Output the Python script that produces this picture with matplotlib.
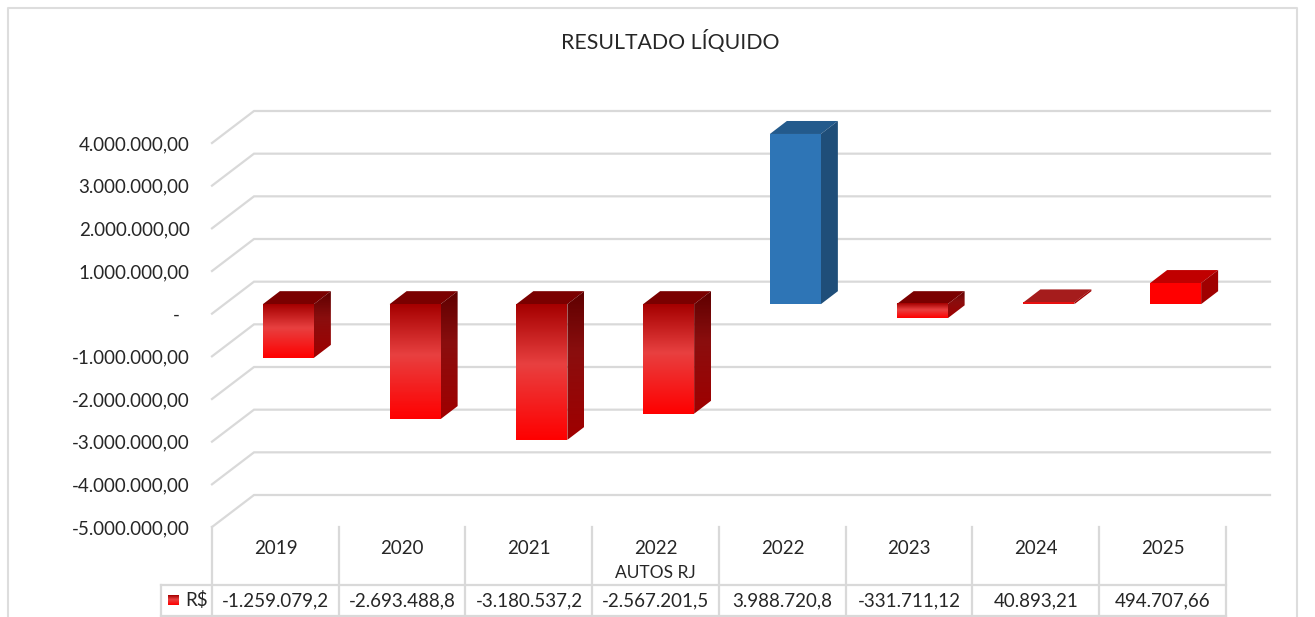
import numpy as np
import matplotlib
matplotlib.use("Agg")
import matplotlib.pyplot as plt
from matplotlib.colors import LinearSegmentedColormap
from matplotlib.patches import Polygon

plt.rcParams["font.family"] = ["Lato", "DejaVu Sans"]

years = ["2019", "2020", "2021", "2022", "2022", "2023", "2024", "2025"]
sublabels = ["", "", "", "AUTOS RJ", "", "", "", ""]
values = [-1259079.2, -2693488.8, -3180537.2, -2567201.5, 3988720.8, -331711.12, 40893.21, 494707.66]
value_labels = ["-1.259.079,2", "-2.693.488,8", "-3.180.537,2", "-2.567.201,5",
                "3.988.720,8", "-331.711,12", "40.893,21", "494.707,66"]
bar_styles = ["grad", "grad", "grad", "grad", "blue", "grad", "flat", "plain"]
y_ticks = [4e6, 3e6, 2e6, 1e6, 0, -1e6, -2e6, -3e6, -4e6, -5e6]
y_labels = ["4.000.000,00", "3.000.000,00", "2.000.000,00", "1.000.000,00", "-",
            "-1.000.000,00", "-2.000.000,00", "-3.000.000,00", "-4.000.000,00", "-5.000.000,00"]

W, H = 1315, 617
GRID = "#D9D9D9"
TEXT = "#262626"
PX_X = 1 / 126.75          # one pixel in category units
PX_Y = 1e6 / 42.67         # one pixel in value units

front_cmap = LinearSegmentedColormap.from_list("front", [(0, "#A50000"), (0.44, "#E84040"), (1, "#FF0000")])
side_cmap = LinearSegmentedColormap.from_list("side", [(0, "#5E0000"), (0.4, "#8A0E0E"), (1, "#A00000")])


def gradient_fill(ax, x0, x1, y0, y1, cmap, clip=None):
    grad = np.linspace(0, 1, 128).reshape(-1, 1)
    im = ax.imshow(grad, cmap=cmap, extent=(x0, x1, y0, y1), origin="upper",
                   aspect="auto", zorder=3, interpolation="bilinear")
    if clip is not None:
        clip.set_visible(False)
        ax.add_patch(clip)
        im.set_clip_path(clip)
    else:
        im.set_clip_on(False)


def draw_bar(ax, pos, val, style):
    # front face sits a bit behind the front plane, the box goes back from there
    left = pos + (263 - 275.5) * PX_X
    right = left + 51 * PX_X
    base = 9.5 * PX_Y
    hi = base + max(val, 0)
    lo = base + min(val, 0)
    dx, dy = 17 * PX_X, 13 * PX_Y
    top = [(left, hi), (right, hi), (right + dx, hi + dy), (left + dx, hi + dy)]
    side = [(right, hi), (right + dx, hi + dy), (right + dx, lo + dy), (right, lo)]

    if style == "grad":
        ax.add_patch(Polygon(top, fc="#7A0000", ec="none", zorder=3, clip_on=False))
        gradient_fill(ax, left, right, lo, hi, front_cmap)
        gradient_fill(ax, right, right + dx, lo, hi + dy, side_cmap,
                      Polygon(side, transform=ax.transData))
        return
    front_c, top_c, side_c = {"blue": ("#2E75B6", "#235A8C", "#1F4E79"),
                              "flat": ("#E81010", "#A51C1C", "#A00000"),
                              "plain": ("#FF0000", "#C00000", "#A00000")}[style]
    ax.add_patch(Polygon(top, fc=top_c, ec="none", zorder=3, clip_on=False))
    ax.add_patch(Polygon(side, fc=side_c, ec="none", zorder=3, clip_on=False))
    ax.fill_between([left, right], lo, hi, color=front_c, lw=0, zorder=3, clip_on=False)


fig = plt.figure(figsize=(W / 100, H / 100), dpi=100)

# pixel overlay for the chart frame and the data table
over = fig.add_axes([0, 0, 1, 1])
over.set_xlim(0, W)
over.set_ylim(H, 0)
over.axis("off")

ax = fig.add_axes([212 / W, 1 - 527 / H, 1014 / W, 384 / H])
ax.set_xlim(0, 8)
ax.set_ylim(-5e6, 4e6)
ax.axis("off")

# outer frame
over.plot([8, 8, 1297, 1297], [617, 8, 8, 617], color="#DDDDDD", lw=1.5)

# floor/wall lines, going back from the front plane
back_x, back_y = 42 * PX_X, 32 * PX_Y
for t in y_ticks:
    ax.plot([0, back_x, 8 + 44 * PX_X], [t, t + back_y, t + back_y], color=GRID, lw=1.6,
            zorder=1, clip_on=False, solid_joinstyle="miter")

for i, (v, s) in enumerate(zip(values, bar_styles)):
    draw_bar(ax, i + 0.5, v, s)
ax.set_xlim(0, 8)
ax.set_ylim(-5e6, 4e6)

# value axis labels
for t, lab in zip(y_ticks, y_labels):
    x = 180 if lab == "-" else 189.5
    y_px = 528.5 - (t + 5e6) / PX_Y
    over.text(x, y_px, lab, ha="right", va="center", fontsize=13.5, color=TEXT)

# table
col_edges = [212 + 126.75 * i for i in range(9)]
for x in col_edges:
    over.plot([x, x], [527, 617], color=GRID, lw=1.6)
over.plot([161, 161], [585, 617], color=GRID, lw=1.6)
over.plot([161, 1226], [585, 585], color=GRID, lw=1.6)
over.plot([161, 1226], [616, 616], color=GRID, lw=1.6)

for i in range(8):
    xc = col_edges[i] + 63.6
    over.text(xc, 549, years[i], ha="center", va="center", fontsize=13.5, color=TEXT)
    if sublabels[i]:
        over.text(xc, 573, sublabels[i], ha="center", va="center", fontsize=12.5, color=TEXT)
    over.text(xc, 600.5, value_labels[i], ha="center", va="center", fontsize=13.5, color=TEXT)

# legend key
grad = np.linspace(0, 1, 32).reshape(-1, 1)
over.imshow(grad, cmap=front_cmap, extent=(168, 179, 605, 595), aspect="auto", zorder=3)
over.set_xlim(0, W)
over.set_ylim(H, 0)
over.text(185, 600.5, "R$", ha="left", va="center", fontsize=13.5, color=TEXT)

over.text(670.5, 41, "RESULTADO LÍQUIDO", ha="center", va="center", fontsize=15.3, color=TEXT)

fig.savefig("out.png", dpi=100, facecolor="white")
